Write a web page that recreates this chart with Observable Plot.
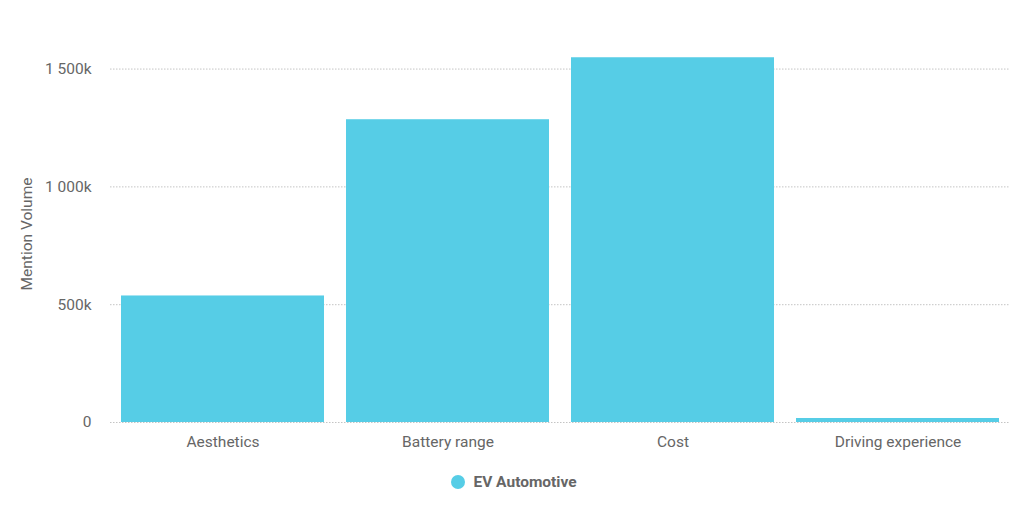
<!DOCTYPE html>
<html>
<head>
<meta charset="utf-8">
<script src="https://cdn.jsdelivr.net/npm/d3@7"></script>
<script src="https://cdn.jsdelivr.net/npm/@observablehq/plot@0.6"></script>
<style>
  body { margin: 0; background: #fff; font-family: Roboto, "Open Sans", sans-serif; }
  #chart { width: 1024px; }
  .legend { display: flex; justify-content: center; align-items: center; gap: 8px; height: 44px; margin-top: 0px; color: #666; font-weight: bold; font-size: 15.5px; padding-left: 4px; }
  .legend .dot { width: 14px; height: 14px; border-radius: 50%; background: #56cde6; display: inline-block; }
</style>
</head>
<body>
<div id="chart"></div>
<script>
const categories = ["Aesthetics", "Battery range", "Cost", "Driving experience"];
const values = [537000, 1285000, 1548000, 17000];
const seriesName = "EV Automotive";
const yTicks = [0, 500000, 1000000, 1500000];
const barColor = "#56cde6";

const data = categories.map((c, i) => ({category: c, value: values[i]}));
const fmt = d => d === 0 ? "0" : d3.format(",")(d / 1000).replace(/,/g, " ") + "k";

const chart = Plot.plot({
  width: 1024,
  height: 460,
  marginLeft: 110,
  marginRight: 14,
  marginTop: 45,
  marginBottom: 38,
  style: {fontFamily: "Roboto, sans-serif", fontSize: "15.5px", color: "#666", background: "#fff"},
  x: {domain: categories, paddingInner: 0.1, paddingOuter: 0.05, label: null},
  y: {domain: [0, 1600000], label: null},
  marks: [
    Plot.gridY(yTicks, {stroke: "#c4c4c4", strokeOpacity: 1, strokeDasharray: "1.5,1.5"}),
    Plot.barY(data, {x: "category", y: "value", fill: barColor}),
    Plot.axisY(yTicks, {tickSize: 0, tickPadding: 19, tickFormat: fmt, fill: "#666", fontSize: 15.5, label: null}),
    Plot.axisX({tickSize: 0, tickPadding: 13, fill: "#666", fontSize: 15.5, label: null}),
    Plot.text(["Mention Volume"], {frameAnchor: "left", textAnchor: "middle", dx: -83, rotate: -90, fill: "#666", fontSize: 15.5})
  ]
});
document.getElementById("chart").appendChild(chart);

const legend = document.createElement("div");
legend.className = "legend";
legend.innerHTML = `<span class="dot"></span><span>${seriesName}</span>`;
document.getElementById("chart").appendChild(legend);
</script>
</body>
</html>
